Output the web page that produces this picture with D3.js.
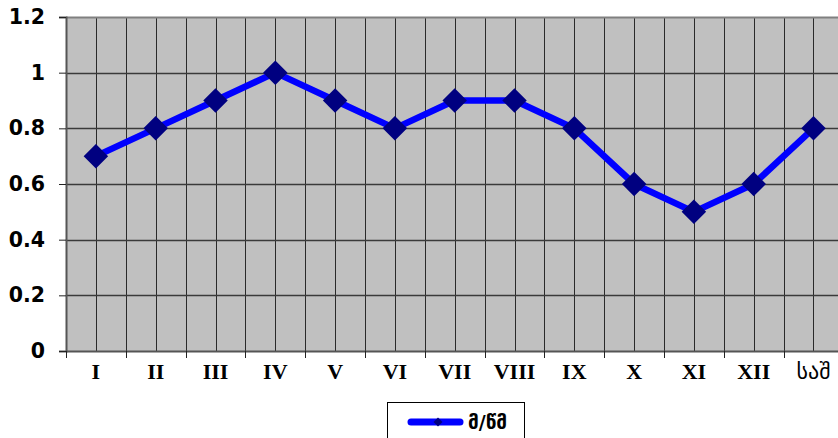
<!DOCTYPE html>
<html>
<head>
<meta charset="utf-8">
<script src="https://cdn.jsdelivr.net/npm/d3@7"></script>
<style>
    body { margin: 0; background: #fff; }
    svg { display: block; }
</style>
</head>
<body>
<div id="chart"></div>
<script>
let months = ["I", "II", "III", "IV", "V", "VI", "VII", "VIII", "IX", "X", "XI", "XII", "საშ"];
let speed = [0.7, 0.8, 0.9, 1.0, 0.9, 0.8, 0.9, 0.9, 0.8, 0.6, 0.5, 0.6, 0.8];
let yTicks = [0, 0.2, 0.4, 0.6, 0.8, 1, 1.2];
let seriesName = "მ/წმ";

function init() {
    const w = 838;
    const h = 438;
    const left = 66, top = 17, bottom = 351;
    const bandW = 59.8;
    const right = left + bandW * months.length;

    var svg = d3.select("#chart")
        .append("svg")
        .attr("width", w)
        .attr("height", h);

    var x = d3.scaleBand()
        .domain(months)
        .range([left, right]);

    var y = d3.scaleLinear()
        .domain([0, 1.2])
        .range([bottom, top]);

    // plot background
    svg.append("rect")
        .attr("x", left)
        .attr("y", top)
        .attr("width", right - left)
        .attr("height", bottom - top)
        .attr("fill", "#c0c0c0");

    // vertical gridlines at band edges and centres
    let vx = [];
    months.forEach(function (m) {
        vx.push(x(m));
        vx.push(x(m) + x.bandwidth() / 2);
    });
    svg.selectAll("line.vgrid")
        .data(vx.slice(1))
        .enter()
        .append("line")
        .attr("class", "vgrid")
        .attr("x1", d => Math.round(d) + 0.5)
        .attr("x2", d => Math.round(d) + 0.5)
        .attr("y1", top)
        .attr("y2", bottom)
        .attr("stroke", "#2a2a2a")
        .attr("stroke-width", 1);

    // horizontal gridlines
    svg.selectAll("line.hgrid")
        .data(yTicks.slice(1))
        .enter()
        .append("line")
        .attr("class", "hgrid")
        .attr("x1", left)
        .attr("x2", right)
        .attr("y1", d => Math.round(y(d)) + 0.5)
        .attr("y2", d => Math.round(y(d)) + 0.5)
        .attr("stroke", d => d === 1.2 ? "#808080" : "#3a3a3a")
        .attr("stroke-width", d => d === 1.2 ? 2 : 1.5);

    // y axis
    var yAxis = d3.axisLeft(y)
        .tickValues(yTicks)
        .tickSize(7)
        .tickPadding(14)
        .tickFormat(d => d === 0 || d === 1 ? d3.format("d")(d) : d3.format(".1f")(d));
    var gy = svg.append("g")
        .attr("transform", "translate(" + left + ",0)")
        .call(yAxis);
    gy.select(".domain").attr("stroke", "#555").attr("stroke-width", 2);
    gy.selectAll(".tick line").attr("stroke", "#222");
    gy.selectAll("text")
        .attr("fill", "#000")
        .style("font-family", "'DejaVu Sans', sans-serif")
        .style("font-size", "20.5px")
        .style("font-weight", "bold");

    // x axis
    var xAxis = d3.axisBottom(x)
        .tickSize(0)
        .tickPadding(12);
    var gx = svg.append("g")
        .attr("transform", "translate(0," + bottom + ")")
        .call(xAxis);
    gx.select(".domain").attr("stroke", "#555").attr("stroke-width", 2);
    gx.selectAll("text")
        .attr("fill", "#000")
        .style("font-family", d => d === "საშ" ? "'DejaVu Sans', sans-serif" : "'Liberation Serif', 'Times New Roman', serif")
        .style("font-size", "22px")
        .style("font-weight", d => d === "საშ" ? "normal" : "bold");

    // tick marks between categories
    svg.selectAll("line.xtick")
        .data(months)
        .enter()
        .append("line")
        .attr("class", "xtick")
        .attr("x1", d => Math.round(x(d)) + 0.5)
        .attr("x2", d => Math.round(x(d)) + 0.5)
        .attr("y1", bottom)
        .attr("y2", bottom + 7)
        .attr("stroke", "#222");

    // series line
    var line = d3.line()
        .x((d, i) => x(months[i]) + x.bandwidth() / 2)
        .y(d => y(d));

    svg.append("path")
        .datum(speed)
        .attr("d", line)
        .attr("fill", "none")
        .attr("stroke", "#0000ff")
        .attr("stroke-width", 6.5)
        .attr("stroke-linejoin", "round");

    var diamond = d3.symbol().type(d3.symbolSquare).size(300);
    svg.selectAll("path.marker")
        .data(speed)
        .enter()
        .append("path")
        .attr("class", "marker")
        .attr("d", diamond)
        .attr("transform", (d, i) => "translate(" + (x(months[i]) + x.bandwidth() / 2) + "," + y(d) + ") rotate(45)")
        .attr("fill", "#000080");

    // legend
    var lg = svg.append("g");
    lg.append("rect")
        .attr("x", 387.5)
        .attr("y", 402.5)
        .attr("width", 137)
        .attr("height", 50)
        .attr("fill", "#fff")
        .attr("stroke", "#000")
        .attr("stroke-width", 1);
    lg.append("line")
        .attr("x1", 411)
        .attr("x2", 460)
        .attr("y1", 422)
        .attr("y2", 422)
        .attr("stroke", "#0000ff")
        .attr("stroke-width", 7)
        .attr("stroke-linecap", "round");
    lg.append("path")
        .attr("d", d3.symbol().type(d3.symbolSquare).size(40))
        .attr("transform", "translate(438,422) rotate(45)")
        .attr("fill", "#000080");
    lg.append("text")
        .attr("x", 468)
        .attr("y", 429)
        .text(seriesName)
        .style("font-family", "'DejaVu Sans', sans-serif")
        .style("font-size", "19px")
        .style("font-weight", "bold");
}

window.onload = init;
</script>
</body>
</html>
